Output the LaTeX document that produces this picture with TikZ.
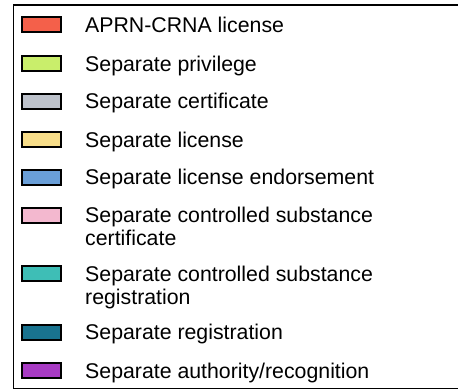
\documentclass[tikz,border=0pt]{standalone}
\usepackage{fontspec}
\setmainfont{Liberation Sans}
\definecolor{crnared}{HTML}{F4604A}
\definecolor{privgreen}{HTML}{C9EE6B}
\definecolor{certgray}{HTML}{BDC2CB}
\definecolor{licyellow}{HTML}{F8DE8A}
\definecolor{endblue}{HTML}{6A9FD8}
\definecolor{cscpink}{HTML}{F3B8CF}
\definecolor{csrteal}{HTML}{3EBEB6}
\definecolor{regblue}{HTML}{19738F}
\definecolor{authpurple}{HTML}{A83BC4}
\begin{document}
\begin{tikzpicture}[x=1pt,y=-1pt,
  swatch/.style={draw=black,line width=2pt,minimum width=39pt,minimum height=15pt,inner sep=0pt},
  entry/.style={anchor=base west,inner sep=0pt,align=left,font=\fontsize{21.3}{23}\selectfont}]
\useasboundingbox (0,0) rectangle (458,391);
\draw[line width=1.6pt] (13.5,5) rectangle (470,388.5);
\node [swatch,fill=crnared] (crna) at (41.5,24.5) {};
\node [entry] (crnat) at (85,32) {APRN-CRNA license};
\node [swatch,fill=privgreen] (priv) at (41.5,63.5) {};
\node [entry] (privt) at (85,71) {Separate privilege};
\node [swatch,fill=certgray] (cert) at (41.5,101) {};
\node [entry] (certt) at (85,108.5) {Separate certificate};
\node [swatch,fill=licyellow] (lic) at (41.5,139.5) {};
\node [entry] (lict) at (85,147) {Separate license};
\node [swatch,fill=endblue] (endo) at (41.5,177) {};
\node [entry] (endot) at (85,184.5) {Separate license endorsement};
\node [swatch,fill=cscpink] (csc) at (41.5,215) {};
% two lines: base is the last line
\node [entry] (csct) at (85,245.5) {Separate controlled substance\\certificate};
\node [swatch,fill=csrteal] (csr) at (41.5,273.5) {};
\node [entry] (csrt) at (85,304) {Separate controlled substance\\registration};
\node [swatch,fill=regblue] (reg) at (41.5,332) {};
\node [entry] (regt) at (85,339.5) {Separate registration};
\node [swatch,fill=authpurple] (auth) at (41.5,370.5) {};
\node [entry] (autht) at (85,378) {Separate authority/recognition};
\end{tikzpicture}
\end{document}
